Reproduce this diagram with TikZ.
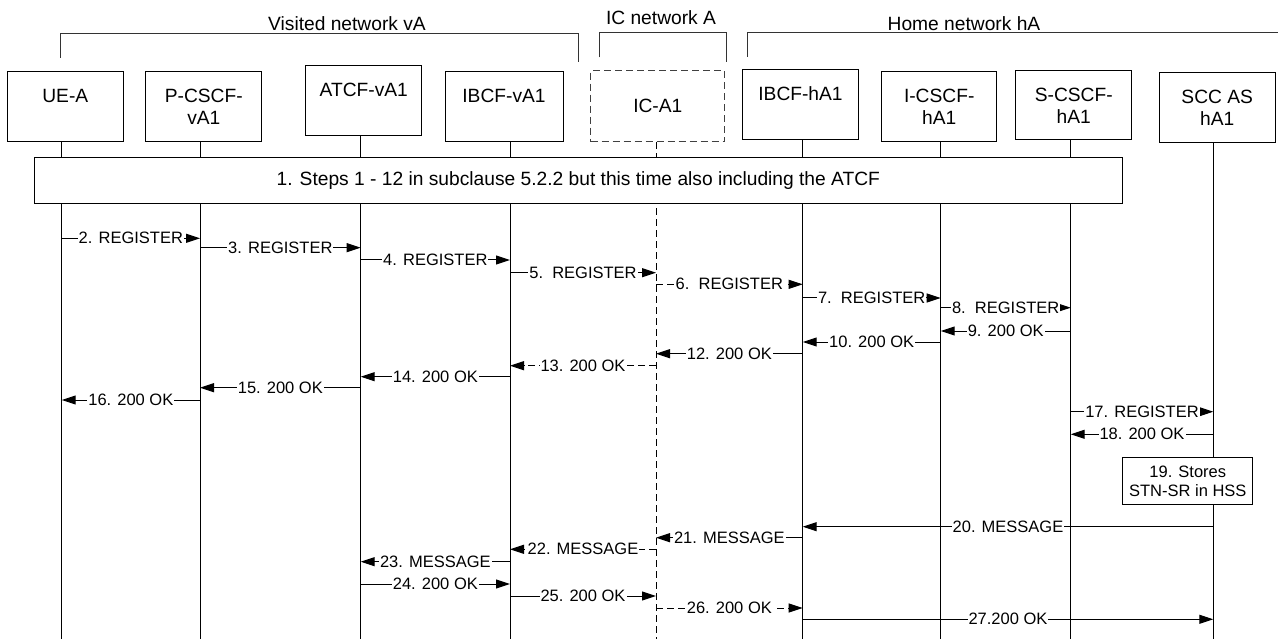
\documentclass[tikz,border=0pt]{standalone}
\usepackage{fontspec}
\setmainfont{Liberation Sans}
\usetikzlibrary{arrows.meta}
\newcommand{\msgline}[5]{\draw[msg,#5] (#1 |- 0,#3) -- node[lbl]{#4} (#2 |- 0,#3);}
\begin{document}
\begin{tikzpicture}[x=1pt,y=-1pt,
  ent/.style={draw, line width=1pt, inner sep=0pt, align=center, font=\fontsize{19.2}{22}\selectfont},
  life/.style={line width=1pt},
  msg/.style={line width=1pt, -{Triangle[length=14pt,width=9pt]}},
  lbl/.style={fill=white, inner sep=1pt, font=\fontsize{16.5}{19}\selectfont},
  dsh/.style={dash pattern=on 7pt off 4pt},
  hdr/.style={font=\fontsize{19.2}{22}\selectfont, inner sep=0pt},
  brk/.style={line width=1pt, black!80}
]
\useasboundingbox (0,0) rectangle (1278,639);

% headers and brackets
\node[hdr] (hv) at (347,23.5) {Visited network vA};
\node[hdr] (hic) at (661,18) {IC network A};
\node[hdr] (hh) at (964,23.5) {Home network hA};
\draw[brk] (60.7,58) -- (60.7,33.3) -- (578.3,33.3) -- (578.3,62.3);
\draw[brk] (599.3,57.3) -- (599.3,32.7) -- (726,32.7) -- (726,61.7);
\draw[brk] (747.3,56.7) -- (747.3,32.7) -- (1278,32.7);

% entities
\node[ent, minimum width=116pt, minimum height=70pt] (ue) at (65.3,106.7) {UE-A\\ \mbox{}};
\node[ent, minimum width=115.7pt, minimum height=70pt] (pc) at (203.8,106.7) {P-CSCF-\\vA1};
\node[ent, minimum width=115.7pt, minimum height=69.7pt] (at) at (363.8,100.8) {ATCF-vA1\\ \mbox{}};
\node[ent, minimum width=118pt, minimum height=70pt] (ibv) at (504,106.7) {IBCF-vA1\\ \mbox{}};
\node[ent, dsh, black!75, text=black, minimum width=134.3pt, minimum height=70.7pt] (ic) at (657.8,106.3) {IC-A1};
\node[ent, minimum width=115.6pt, minimum height=70pt] (ibh) at (800.5,105) {IBCF-hA1\\ \mbox{}};
\node[ent, minimum width=115pt, minimum height=70pt] (icf) at (939.2,106.7) {I-CSCF-\\hA1};
\node[ent, minimum width=115.7pt, minimum height=69pt] (scf) at (1073.8,105.5) {S-CSCF-\\hA1};
\node[ent, minimum width=115.7pt, minimum height=70pt] (scc) at (1217.2,107.7) {SCC AS\\hA1};

% lifeline bottoms
\coordinate (Lue) at (61.7,639);
\coordinate (Lpc) at (200,639);
\coordinate (Lat) at (360.7,639);
\coordinate (Libv) at (510,639);
\coordinate (Lic) at (656,639);
\coordinate (Libh) at (802.7,639);
\coordinate (Licf) at (940.7,639);
\coordinate (Lscf) at (1070.7,639);
\coordinate (Lscc) at (1213.3,639);

\draw[life] (ue.south -| Lue) -- (Lue);
\draw[life] (pc.south -| Lpc) -- (Lpc);
\draw[life] (at.south -| Lat) -- (Lat);
\draw[life] (ibv.south -| Libv) -- (Libv);
\draw[life,dsh] (ic.south -| Lic) -- (Lic);
\draw[life] (ibh.south -| Libh) -- (Libh);
\draw[life] (icf.south -| Licf) -- (Licf);
\draw[life] (scf.south -| Lscf) -- (Lscf);
\draw[life] (scc.south -| Lscc) -- (Lscc);

% step 1 box
\node[ent, fill=white, minimum width=1088pt, minimum height=46pt] (s1) at (578.3,180.3)
  {1. Steps 1 - 12 in subclause 5.2.2 but this time also including the ATCF};

% messages
\msgline{Lue}{Lpc}{238.3}{2. REGISTER}{}
\msgline{Lpc}{Lat}{247.7}{3. REGISTER}{}
\msgline{Lat}{Libv}{260}{4. REGISTER}{}
\msgline{Libv}{Lic}{272.7}{5.\ \ REGISTER}{}
\msgline{Lic}{Libh}{284.3}{6.\ \ REGISTER}{dsh}
\msgline{Libh}{Licf}{298}{7.\ \ REGISTER}{}
\msgline{Licf}{Lscf}{307.7}{8.\ \ REGISTER}{}
\msgline{Lscf}{Licf}{331}{9. 200 OK}{}
\msgline{Licf}{Libh}{342}{10. 200 OK}{}
\msgline{Libh}{Lic}{353.7}{12. 200 OK}{}
\msgline{Lic}{Libv}{365.7}{13. 200 OK}{dsh}
\msgline{Libv}{Lat}{376.7}{14. 200 OK}{}
\msgline{Lat}{Lpc}{387.7}{15. 200 OK}{}
\msgline{Lpc}{Lue}{400}{16. 200 OK}{}
\msgline{Lscf}{Lscc}{411.7}{17. REGISTER}{}
\msgline{Lscc}{Lscf}{434.3}{18. 200 OK}{}

\node[draw, line width=1pt, fill=white, align=center, inner sep=0pt,
  minimum width=129.7pt, minimum height=46.6pt, font=\fontsize{16.5}{19.3}\selectfont]
  (b19) at (1187.8,481) {19. Stores\\STN-SR in HSS};

\msgline{Lscc}{Libh}{526.7}{20. MESSAGE}{}
\msgline{Libh}{Lic}{537.7}{21. MESSAGE}{}
\msgline{Lic}{Libv}{549.3}{22. MESSAGE}{dsh}
\msgline{Libv}{Lat}{561.7}{23. MESSAGE}{}
\msgline{Lat}{Libv}{584}{24. 200 OK}{}
\msgline{Libv}{Lic}{596}{25. 200 OK}{}
\msgline{Lic}{Libh}{608}{26. 200 OK}{dsh}
\msgline{Libh}{Lscc}{619.3}{27.200 OK}{}
\end{tikzpicture}
\end{document}
